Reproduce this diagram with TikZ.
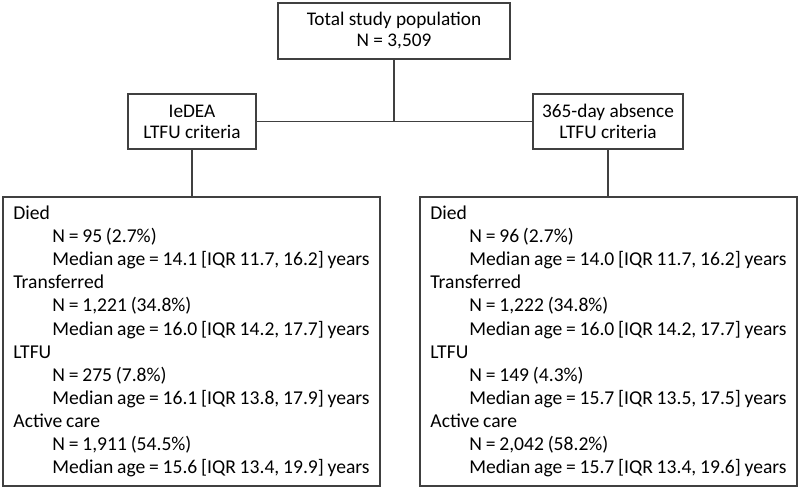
\documentclass[tikz,border=0pt]{standalone}
\usepackage{fontspec}
\setmainfont{Carlito}
\newfontfamily\boxfont{Carlito}[WordSpace=0.85]
\newcommand{\indt}{\hspace*{39pt}}
\begin{document}
\begin{tikzpicture}[x=1pt,y=-1pt,
  box/.style={draw=black!75, line width=1.1pt, inner sep=0pt, align=center,
    font=\fontsize{19.3}{21}\selectfont},
  bigbox/.style={draw=black!75, line width=1.1pt, inner sep=0pt,
    align=left, minimum width=377pt, minimum height=289pt,
    font=\boxfont\fontsize{19.6}{23.1}\selectfont},
  link/.style={draw=black!75, line width=1.1pt}]
\useasboundingbox (0,0) rectangle (800,491);
\node[box, minimum width=232pt, minimum height=56pt] (top) at (394,31)
  {Total study population\\N = 3,509};
\node[box, minimum width=128pt, minimum height=55pt] (lmid) at (192,121.5)
  {IeDEA\\LTFU criteria};
\node[box, minimum width=150pt, minimum height=55pt] (rmid) at (608,121.5)
  {365-day absence\\LTFU criteria};
\node[bigbox] (lbig) at (191.5,341.5)
  {Died\\
   \indt N = 95 (2.7\%)\\
   \indt Median age = 14.1 [IQR 11.7, 16.2] years\\
   Transferred\\
   \indt N = 1,221 (34.8\%)\\
   \indt Median age = 16.0 [IQR 14.2, 17.7] years\\
   LTFU\\
   \indt N = 275 (7.8\%)\\
   \indt Median age = 16.1 [IQR 13.8, 17.9] years\\
   Active care\\
   \indt N = 1,911 (54.5\%)\\
   \indt Median age = 15.6 [IQR 13.4, 19.9] years};
\node[bigbox] (rbig) at (608.5,341.5)
  {Died\\
   \indt N = 96 (2.7\%)\\
   \indt Median age = 14.0 [IQR 11.7, 16.2] years\\
   Transferred\\
   \indt N = 1,222 (34.8\%)\\
   \indt Median age = 16.0 [IQR 14.2, 17.7] years\\
   LTFU\\
   \indt N = 149 (4.3\%)\\
   \indt Median age = 15.7 [IQR 13.5, 17.5] years\\
   Active care\\
   \indt N = 2,042 (58.2\%)\\
   \indt Median age = 15.7 [IQR 13.4, 19.6] years};
\draw[link] (lmid.east) -- (rmid.west);
\draw[link] (top.south) -- (top.south |- lmid.east);
\draw[link] (lmid.south) -- (lmid.south |- lbig.north);
\draw[link] (rmid.south) -- (rmid.south |- rbig.north);
\end{tikzpicture}
\end{document}
